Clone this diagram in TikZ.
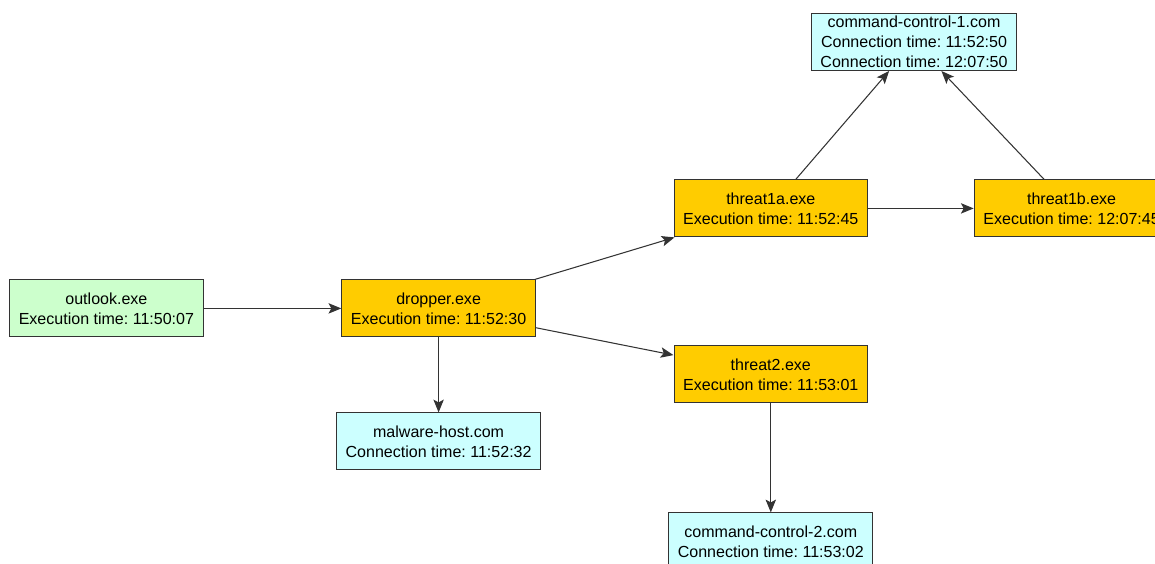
\documentclass[tikz,border=0pt]{standalone}
\usepackage{fontspec}
\setmainfont{Liberation Sans}
\usetikzlibrary{positioning,arrows.meta}
\definecolor{exegreen}{HTML}{CCFFCC}
\definecolor{exeorange}{HTML}{FFCC00}
\definecolor{hostcyan}{HTML}{CCFFFF}
\definecolor{edgegray}{HTML}{333333}
\frenchspacing
\tikzset{
  box/.style={draw=edgegray, line width=0.7pt, rectangle, align=center,
    inner xsep=0.23cm, inner ysep=1pt, minimum height=1.425cm,
    font=\fontsize{11.4}{14.2}\selectfont},
  startproc/.style={box, fill=exegreen},
  proc/.style={box, fill=exeorange},
  host/.style={box, fill=hostcyan},
  flow/.style={draw=edgegray, line width=0.75pt,
    -{Stealth[length=3.2mm, width=2.6mm, inset=0.7mm]}}
}
\begin{document}
\begin{tikzpicture}[node distance=3.44cm]
    \useasboundingbox (0,0) rectangle (28.875,-14.075);
    \clip (0,0) rectangle (28.875,-14.075);

    \node[startproc] (outlook) at (2.66,-7.71) {outlook.exe\\Execution time: 11:50:07};
    \node[proc, right=of outlook] (dropper) {dropper.exe\\Execution time: 11:52:30};
    \node[proc, right=of dropper, yshift=2.5cm] (threat1a) {threat1a.exe\\Execution time: 11:52:45};
    \node[proc, right=of dropper, yshift=-1.65cm] (threat2) {threat2.exe\\Execution time: 11:53:01};
    \node[proc, right=2.64cm of threat1a] (threat1b) {threat1b.exe\\Execution time: 12:07:45};

    \node[host] (cc1) at (22.85,-1.05) {command-control-1.com\\Connection time: 11:52:50\\Connection time: 12:07:50};
    \node[host, below=1.875cm of dropper] (malware) {malware-host.com\\Connection time: 11:52:32};
    \node[host, below=2.725cm of threat2] (cc2) {command-control-2.com\\Connection time: 11:53:02};

    \draw[flow] (outlook) -- (dropper);
    \draw[flow] (dropper) -- (threat1a);
    \draw[flow] (dropper) -- (threat2);
    \draw[flow] (dropper) -- (malware);
    \draw[flow] (threat1a) -- (threat1b);
    \draw[flow] (threat1a) -- (cc1);
    \draw[flow] (threat1b) -- (cc1);
    \draw[flow] (threat2) -- (cc2);
\end{tikzpicture}
\end{document}
